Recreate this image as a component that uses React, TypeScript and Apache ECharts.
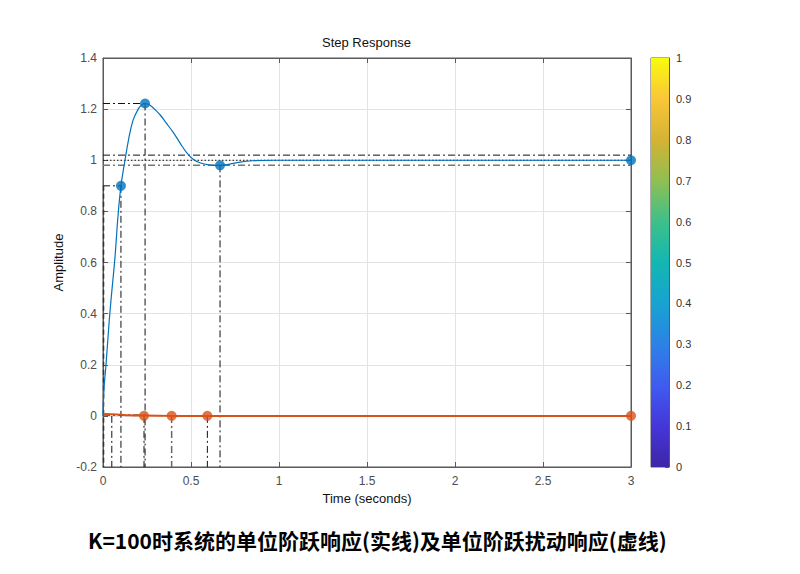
import React, { useEffect, useRef } from "react";
import * as echarts from "echarts";

// Unit step response (solid)
const stepT = [0, 0.006, 0.017, 0.04, 0.068, 0.085, 0.102, 0.125, 0.145, 0.17, 0.2, 0.22, 0.239, 0.26, 0.28, 0.3, 0.324, 0.36, 0.4, 0.44, 0.475, 0.51, 0.551, 0.6, 0.665, 0.72, 0.778, 0.85, 0.97, 1.2, 1.5, 2, 2.5, 3];
const stepY = [0, 0.11, 0.2, 0.41, 0.62, 0.78, 0.9, 1.0, 1.08, 1.155, 1.2, 1.216, 1.222, 1.218, 1.208, 1.195, 1.178, 1.145, 1.108, 1.065, 1.03, 1.005, 0.99, 0.982, 0.98, 0.985, 0.993, 0.998, 1.0, 1.0, 1.0, 1.0, 1.0, 1.0];

// Unit step disturbance response
const distT = [0, 0.02, 0.05, 0.1, 0.15, 0.233, 0.39, 0.593, 1, 2, 3];
const distY = [0.006, 0.007, 0.006, 0.004, 0.002, 0.001, 0, 0, 0, 0, 0];

// Characteristic points (rise, peak, settling, steady state)
const stepMarkT = [0.102, 0.239, 0.665, 3];
const stepMarkY = [0.9, 1.222, 0.98, 1.0];
const distMarkT = [0.233, 0.39, 0.593, 3];
const distMarkY = [0, 0, 0, 0];

// Settling band levels
const bandHigh = 1.02;
const bandMid = 1.0;
const bandLow = 0.98;

// Extra vertical markers near t = 0
const riseStartT = 0.003;
const distRiseT = 0.05;

const yTicks = { min: -0.2, max: 1.4, interval: 0.2 };
const xTicks = { min: 0, max: 3, interval: 0.5 };
const cbarTicks = { min: 0, max: 1, interval: 0.1 };

const parula = [
  [0.0, "#3e26a8"],
  [0.1, "#4536d8"],
  [0.2, "#3f5cf0"],
  [0.3, "#2c82e6"],
  [0.4, "#17a3d2"],
  [0.5, "#13b6b2"],
  [0.6, "#3dc08a"],
  [0.7, "#8fbf52"],
  [0.8, "#d5b233"],
  [0.9, "#f9c638"],
  [1.0, "#f9fb0e"],
];

export default function App() {
  const ref = useRef<HTMLDivElement>(null);
  useEffect(() => {
    document.body.style.margin = "0";
    const chart = echarts.init(ref.current!, null, { renderer: "svg" });
    const font = "Liberation Sans, Arial, Helvetica, sans-serif";
    const axisColor = "#5a5a5a";
    const labelColor = "#4d4d4d";
    const dashDot = [7, 3, 2, 3];
    const bottom = yTicks.min;

    const seg = (pts: number[][], type: any, color: string, width: number) => ({
      type: "line",
      xAxisIndex: 0,
      yAxisIndex: 0,
      data: pts,
      showSymbol: false,
      silent: true,
      z: 1,
      lineStyle: { type, color, width },
    });

    const refSeries: any[] = [];
    refSeries.push(seg([[0, stepMarkY[0]], [stepMarkT[0], stepMarkY[0]]], dashDot, "#111", 1));
    refSeries.push(seg([[0, stepMarkY[1]], [stepMarkT[1], stepMarkY[1]]], dashDot, "#111", 1));
    refSeries.push(seg([[stepMarkT[0], stepMarkY[0]], [stepMarkT[0], bottom]], dashDot, "#111", 1));
    refSeries.push(seg([[stepMarkT[1], stepMarkY[1]], [stepMarkT[1], bottom]], dashDot, "#111", 1));
    refSeries.push(seg([[stepMarkT[2], stepMarkY[2]], [stepMarkT[2], bottom]], dashDot, "#111", 1));
    refSeries.push(seg([[riseStartT, stepMarkY[0]], [riseStartT, bottom]], [5, 3], "#333", 1.5));
    refSeries.push(seg([[0, bandHigh], [xTicks.max, bandHigh]], dashDot, "#111", 1));
    refSeries.push(seg([[0, bandMid], [xTicks.max, bandMid]], [1.5, 2], "#111", 1));
    refSeries.push(seg([[0, bandLow], [xTicks.max, bandLow]], dashDot, "#777", 1.5));
    refSeries.push(seg([[distMarkT[0], distMarkY[0]], [distMarkT[0], bottom]], dashDot, "#111", 1));
    refSeries.push(seg([[distMarkT[1], distMarkY[1]], [distMarkT[1], bottom]], dashDot, "#666", 1.5));
    refSeries.push(seg([[distMarkT[2], distMarkY[2]], [distMarkT[2], bottom]], dashDot, "#111", 1));
    refSeries.push(seg([[distRiseT, 0], [distRiseT, bottom]], dashDot, "#111", 1));
    refSeries.push(seg([[0, 0.004], [distMarkT[0], 0.002]], dashDot, "#222", 1.5));

    const option: any = {
      animation: false,
      backgroundColor: "#fff",
      textStyle: { fontFamily: font },
      grid: [
        { left: 103, right: 169, top: 58, bottom: 107, show: true, borderColor: axisColor, borderWidth: 1, backgroundColor: "#fff" },
        { left: 651, width: 18, top: 58, bottom: 107, show: true, borderColor: axisColor, borderWidth: 1 },
      ],
      xAxis: [
        {
          type: "value", gridIndex: 0, ...xTicks,
          name: "Time (seconds)", nameLocation: "middle", nameGap: 24,
          nameTextStyle: { color: "#111", fontSize: 13, fontFamily: font },
          axisLine: { show: true, onZero: false, lineStyle: { color: axisColor } },
          axisTick: { show: true, inside: true, length: 5, lineStyle: { color: axisColor } },
          axisLabel: { color: labelColor, fontSize: 12, margin: 8, fontFamily: font },
          splitLine: { show: true, lineStyle: { color: "#e3e3e3", width: 1 } },
        },
        {
          type: "value", gridIndex: 0, position: "top", ...xTicks,
          axisLine: { show: true, onZero: false, lineStyle: { color: axisColor } },
          axisTick: { show: true, inside: true, length: 5, lineStyle: { color: axisColor } },
          axisLabel: { show: false },
          splitLine: { show: false },
        },
        { type: "category", gridIndex: 1, data: ["c"], show: false },
      ],
      yAxis: [
        {
          type: "value", gridIndex: 0, ...yTicks,
          name: "Amplitude", nameLocation: "middle", nameGap: 32,
          nameTextStyle: { color: "#111", fontSize: 13, fontFamily: font },
          axisLine: { show: true, onZero: false, lineStyle: { color: axisColor } },
          axisTick: { show: true, inside: true, length: 5, lineStyle: { color: axisColor } },
          axisLabel: { color: labelColor, fontSize: 12, margin: 6, fontFamily: font },
          splitLine: { show: true, lineStyle: { color: "#e3e3e3", width: 1 } },
        },
        {
          type: "value", gridIndex: 0, position: "right", ...yTicks,
          axisLine: { show: true, onZero: false, lineStyle: { color: axisColor } },
          axisTick: { show: true, inside: true, length: 5, lineStyle: { color: axisColor } },
          axisLabel: { show: false },
          splitLine: { show: false },
        },
        {
          type: "value", gridIndex: 1, position: "right", ...cbarTicks,
          axisLine: { show: true, lineStyle: { color: axisColor } },
          axisTick: { show: true, inside: true, length: 4, lineStyle: { color: axisColor } },
          axisLabel: { color: "#333", fontSize: 11, margin: 7, fontFamily: font },
          splitLine: { show: false },
        },
      ],
      graphic: [
        {
          type: "text", left: 322, top: 36,
          style: { text: "Step Response", fill: "#111", fontSize: 13, fontFamily: font },
        },
        {
          type: "text", left: 88, top: 529,
          style: {
            text: "K=100时系统的单位阶跃响应(实线)及单位阶跃扰动响应(虚线)",
            fill: "#000", fontSize: 21, fontWeight: "bold",
            fontFamily: "Noto Sans CJK SC, sans-serif",
          },
        },
      ],
      series: [
        ...refSeries,
        {
          type: "bar", xAxisIndex: 2, yAxisIndex: 2, data: [cbarTicks.max], barWidth: "100%",
          silent: true,
          itemStyle: {
            color: new echarts.graphic.LinearGradient(0, 1, 0, 0,
              parula.map(([o, c]) => ({ offset: o as number, color: c as string }))),
          },
        },
        {
          type: "line", xAxisIndex: 0, yAxisIndex: 0,
          data: distT.map((t, i) => [t, distY[i]]),
          showSymbol: false, smooth: 0.3, z: 3,
          lineStyle: { color: "#D95319", width: 2 },
        },
        {
          type: "line", xAxisIndex: 0, yAxisIndex: 0,
          data: stepT.map((t, i) => [t, stepY[i]]),
          showSymbol: false, smooth: 0.4, z: 3,
          lineStyle: { color: "#0072BD", width: 1.2 },
        },
        {
          type: "scatter", xAxisIndex: 0, yAxisIndex: 0, clip: false, z: 4,
          data: stepMarkT.map((t, i) => [t, stepMarkY[i]]),
          symbolSize: 10, itemStyle: { color: "#0072BD" },
        },
        {
          type: "scatter", xAxisIndex: 0, yAxisIndex: 0, clip: false, z: 4,
          data: distMarkT.map((t, i) => [t, distMarkY[i]]),
          symbolSize: 10, itemStyle: { color: "#D95319" },
        },
      ],
    };
    chart.setOption(option);
    return () => chart.dispose();
  }, []);
  return <div ref={ref} style={{ width: 800, height: 574 }} />;
}
